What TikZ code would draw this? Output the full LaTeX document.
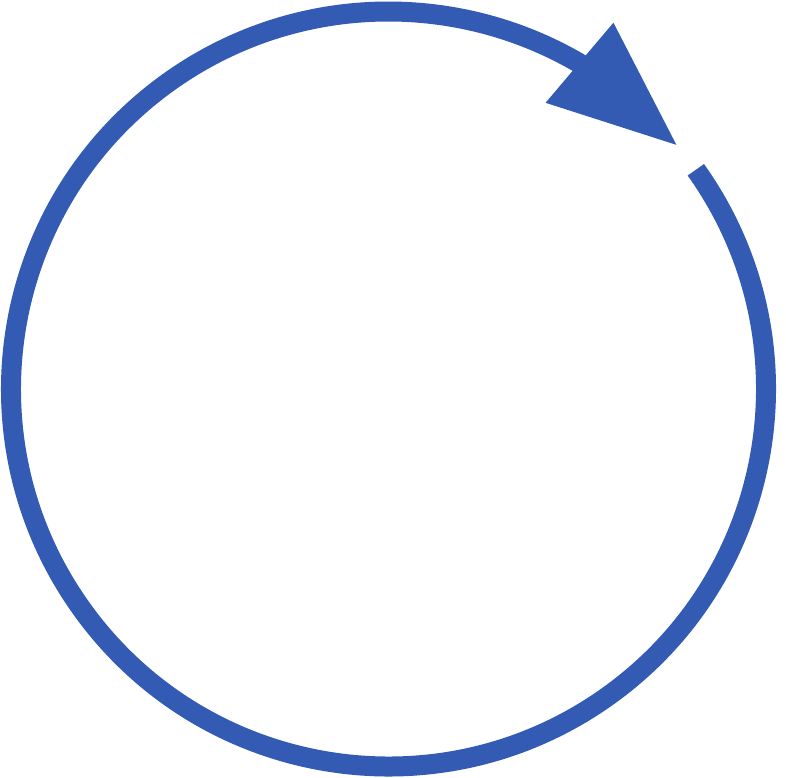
\documentclass[tikz,border=0pt]{standalone}
\usepackage{tikz}
\usetikzlibrary{arrows.meta,bending}
\definecolor{cycleblue}{RGB}{52,91,180}
\begin{document}
\begin{tikzpicture}[
  cycle/.style={draw=cycleblue,line width=0.2cm,
    -{Triangle[length=1.27cm,width=1.05cm,line width=0pt,flex]}}]
\useasboundingbox (-3.885,-3.88) rectangle (3.975,3.89);
\coordinate (start) at (35.5:3.775);
\draw[cycle] (start) arc[start angle=35.5,end angle=-319.7,radius=3.775];
\end{tikzpicture}
\end{document}
